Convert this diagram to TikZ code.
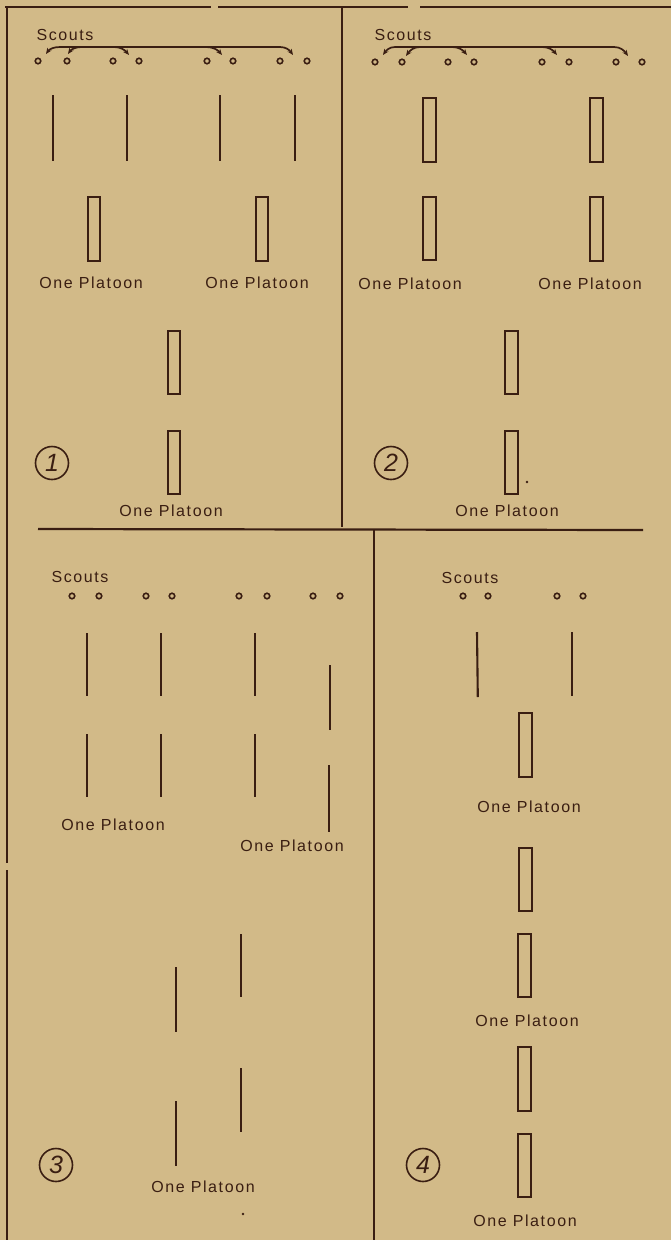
\documentclass[tikz,border=0pt]{standalone}
\usepackage{fontspec}
\setmainfont{Liberation Sans}
\newfontfamily\hand[LetterSpace=10]{Liberation Sans}
\usetikzlibrary{arrows.meta}
\definecolor{paper}{RGB}{210,186,136}
\definecolor{ink}{RGB}{58,30,18}
\begin{document}
\begin{tikzpicture}[x=1pt,y=-1pt,
 frame/.style={ink,line width=2.2pt},
 bar/.style={ink,line width=2.1pt},
 plat/.style={draw=ink,line width=1.8pt,minimum width=12.5pt,minimum height=63.5pt,inner sep=0pt},
 scout/.style={draw=ink,circle,line width=1.6pt,minimum size=5.5pt,inner sep=0pt},
 lbl/.style={text=ink,font=\hand\fontsize{16}{16}\selectfont,inner sep=0pt},
 num/.style={draw=ink,circle,line width=1.6pt,minimum size=33pt,inner sep=0pt,text=ink,font=\fontsize{25}{25}\selectfont\itshape},
 brk/.style={ink,line width=1.7pt},
 arr/.style={ink,line width=1.7pt,-{Stealth[length=6pt,width=5pt]}},
 dot/.style={fill=ink,circle,inner sep=0pt,minimum size=2.8pt}]
\fill[paper] (0,0) rectangle (671,1240);
\useasboundingbox (0,0) rectangle (671,1240);

% ---------- frames ----------
\draw[frame] (5,7) -- (211,7);
\draw[frame] (218,7) -- (408,7);
\draw[frame] (420,7) -- (671,7);
\draw[frame] (7,7) -- (7,863);
\draw[frame] (7,870) -- (7,1240);
\draw[frame] (342,7) -- (342,527);
\draw[frame] (38,529) -- (643,530);
\draw[frame] (374,529) -- (374,1240);

% ---------- panel 1 ----------
\node[lbl] (sc1) at (65,35) {Scouts};
\foreach \x [count=\i] in {38,67,113,139,207,233,280,307}
  \node[scout] (p1s\i) at (\x,61) {};
\coordinate (p1a1) at (46,54);
\coordinate (p1a2) at (68,54);
\coordinate (p1a3) at (129,55);
\coordinate (p1a4) at (222,55);
\coordinate (p1a5) at (293,55);
\coordinate (p1l) at (60,47);
\coordinate (p1r) at (280,47);
\coordinate (p1b2) at (82,47);
\coordinate (p1b3) at (114,47);
\coordinate (p1b4) at (206,47);
\draw[arr] (p1l) to[out=180,in=55] (p1a1);
\draw[brk] (p1l) -- (p1r);
\draw[arr] (p1r) to[out=0,in=125] (p1a5);
\draw[arr] (p1b2) to[out=180,in=55] (p1a2);
\draw[arr] (p1b3) to[out=0,in=130] (p1a3);
\draw[arr] (p1b4) to[out=0,in=130] (p1a4);
\foreach \x in {53,127,220,295}
  \draw[bar] (\x,95) -- (\x,161);
\node[plat] (p1r1) at (94,229) {};
\node[plat] (p1r2) at (262,229) {};
\node[lbl] (p1t1) at (91,283) {One Platoon};
\node[lbl] (p1t2) at (257,283) {One Platoon};
\node[plat] (p1r3) at (174,362.5) {};
\node[plat] (p1r4) at (174,462.5) {};
\node[lbl] (p1t3) at (171,511) {One Platoon};
\node[num] (n1) at (52,463) {1};

% ---------- panel 2 ----------
\node[lbl] (sc2) at (403,35) {Scouts};
\foreach \x [count=\i] in {375,402,448,474,542,569,616,642}
  \node[scout] (p2s\i) at (\x,62) {};
\coordinate (p2a1) at (383,55);
\coordinate (p2a2) at (406,56);
\coordinate (p2a3) at (467,55);
\coordinate (p2a4) at (557,55);
\coordinate (p2a5) at (628,56);
\coordinate (p2l) at (395,47);
\coordinate (p2r) at (614,47);
\coordinate (p2b2) at (420,47);
\coordinate (p2b3) at (452,47);
\coordinate (p2b4) at (542,47);
\draw[arr] (p2l) to[out=180,in=55] (p2a1);
\draw[brk] (p2l) -- (p2r);
\draw[arr] (p2r) to[out=0,in=125] (p2a5);
\draw[arr] (p2b2) to[out=180,in=55] (p2a2);
\draw[arr] (p2b3) to[out=0,in=130] (p2a3);
\draw[arr] (p2b4) to[out=0,in=130] (p2a4);
\node[plat] (p2r1) at (429.5,130) {};
\node[plat] (p2r2) at (596.5,130) {};
\node[plat] (p2r3) at (429.5,228.5) {};
\node[plat] (p2r4) at (596.5,229) {};
\node[lbl] (p2t1) at (410,284) {One Platoon};
\node[lbl] (p2t2) at (590,284) {One Platoon};
\node[plat] (p2r5) at (511.5,362.5) {};
\node[plat] (p2r6) at (511.5,462.5) {};
\node[dot] (p2d) at (527,482) {};
\node[lbl] (p2t3) at (507,511) {One Platoon};
\node[num] (n2) at (391,463) {2};

% ---------- panel 3 ----------
\node[lbl] (sc3) at (80,577) {Scouts};
\foreach \x [count=\i] in {72,99,146,172,239,267,313,340}
  \node[scout] (p3s\i) at (\x,596) {};
\foreach \x in {87,161,255} {
  \draw[bar] (\x,633) -- (\x,696);
  \draw[bar] (\x,734) -- (\x,797);
}
\draw[bar] (330,665) -- (330,730);
\draw[bar] (329,765) -- (329,832);
\node[lbl] (p3t1) at (113,825) {One Platoon};
\node[lbl] (p3t2) at (292,846) {One Platoon};
\draw[bar] (176,967) -- (176,1032);
\draw[bar] (241,934) -- (241,997);
\draw[bar] (176,1101) -- (176,1166);
\draw[bar] (241,1068) -- (241,1132);
\node[lbl] (p3t3) at (203,1187) {One Platoon};
\node[dot] (p3d) at (243,1214) {};
\node[num] (n3) at (56,1165) {3};

% ---------- panel 4 ----------
\node[lbl] (sc4) at (470,578) {Scouts};
\foreach \x [count=\i] in {463,488,557,583}
  \node[scout] (p4s\i) at (\x,596) {};
\draw[bar] (477,632) -- (477.8,697);
\draw[bar] (572,632) -- (572,696);
\node[plat] (p4r1) at (525.5,745) {};
\node[lbl] (p4t1) at (529,807) {One Platoon};
\node[plat] (p4r2) at (525.5,879.5) {};
\node[plat] (p4r3) at (524.5,965.5) {};
\node[lbl] (p4t2) at (527,1021) {One Platoon};
\node[plat] (p4r4) at (524.5,1079) {};
\node[plat] (p4r5) at (524.5,1165.5) {};
\node[lbl] (p4t3) at (525,1221) {One Platoon};
\node[num] (n4) at (423,1165) {4};
\end{tikzpicture}
\end{document}
